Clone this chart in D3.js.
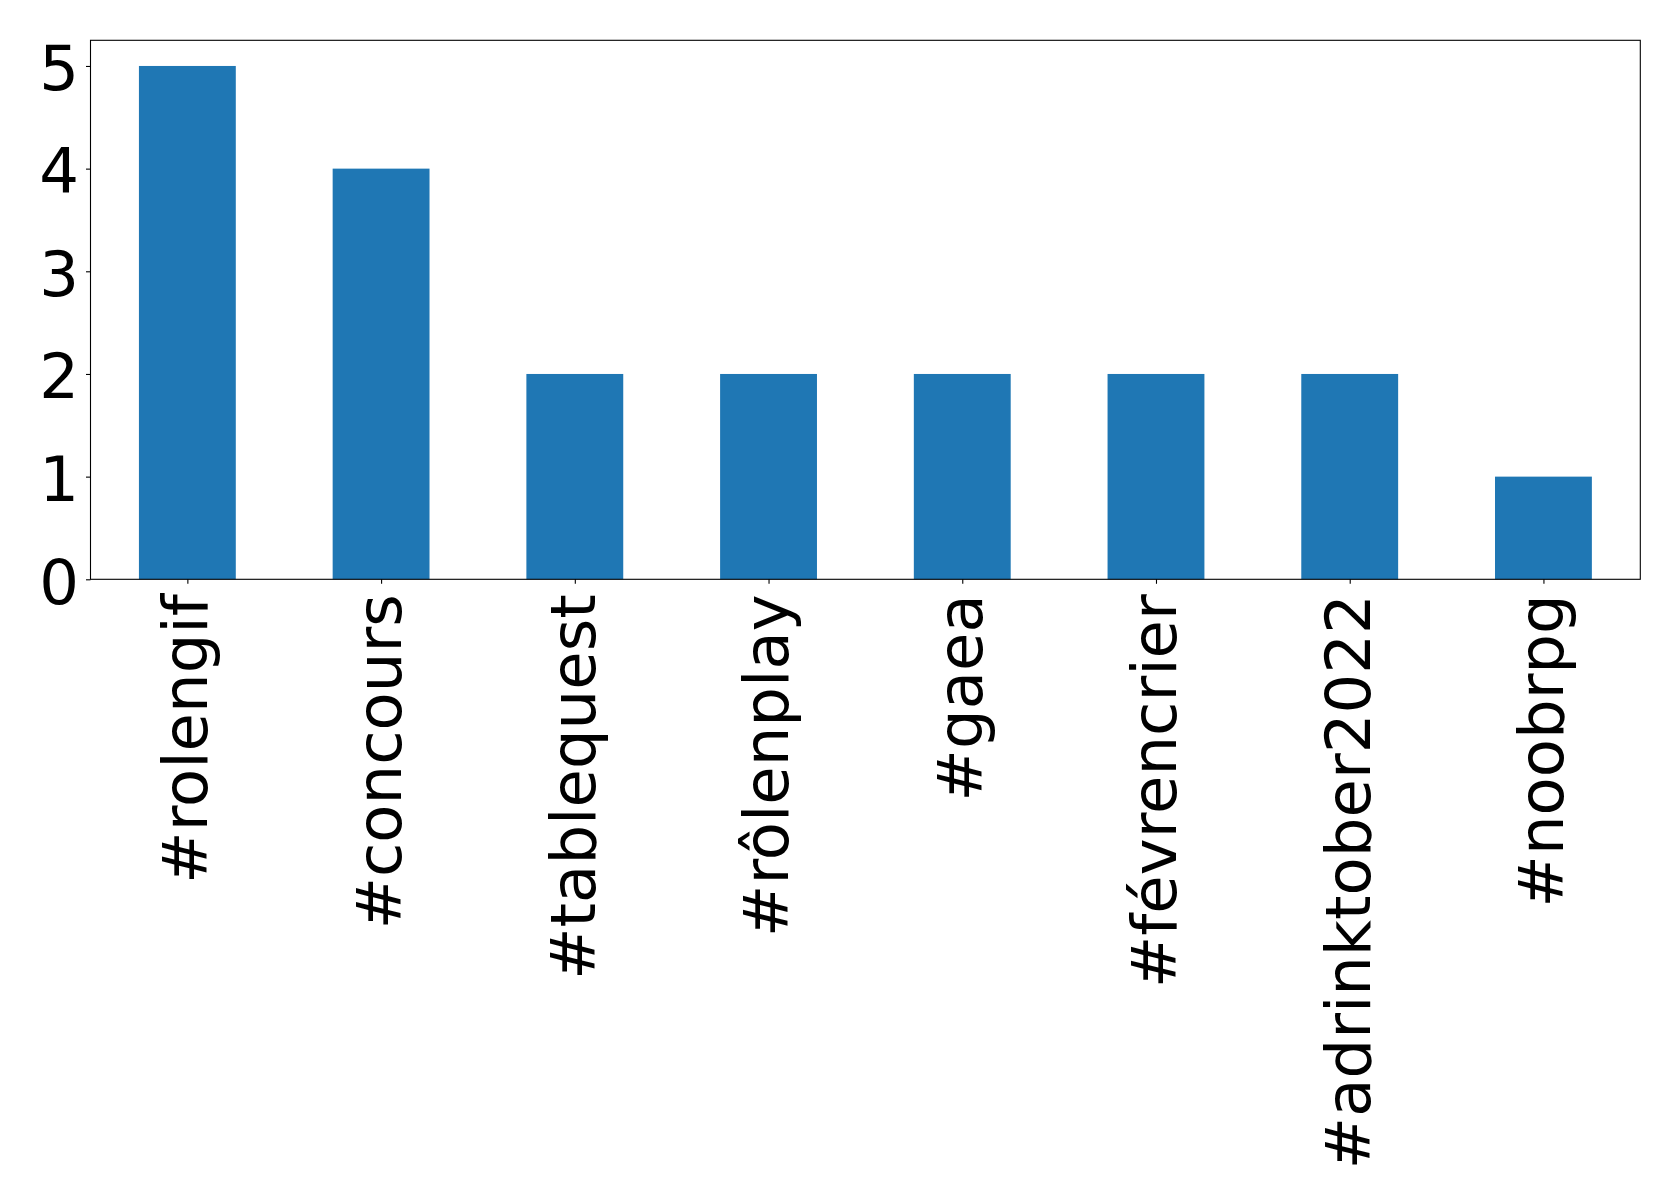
<!DOCTYPE html>
<html><head><meta charset="utf-8">
<script src="https://cdn.jsdelivr.net/npm/d3@7"></script>
<style>body{margin:0;background:#fff}svg{display:block}</style>
</head><body>
<script>
const categories = ["#rolengif","#concours","#tablequest","#rôlenplay","#gaea","#févrencrier","#adrinktober2022","#noobrpg"];
const values = [5,4,2,2,2,2,2,1];
const yTicks = [0,1,2,3,4,5];

(function(){
const W=1679,H=1203;
const mL=90.5,mR=1640.3,mT=40.3,mB=579.3;
const svg=d3.select("body").append("svg").attr("width",W).attr("height",H);
const x=d3.scaleLinear().domain([-0.5,categories.length-0.5]).range([mL,mR]);
const y=d3.scaleLinear().domain([0,5.25]).range([mB,mT]);
const font="DejaVu Sans", fs=62.5;

svg.selectAll("rect.bar").data(values).join("rect").attr("class","bar")
  .attr("x",(d,i)=>x(i-0.25)).attr("width",(d,i)=>x(i+0.25)-x(i-0.25))
  .attr("y",d=>y(d)).attr("height",d=>y(0)-y(d)).attr("fill","#1f77b4");

svg.append("rect").attr("x",mL).attr("y",mT).attr("width",mR-mL).attr("height",mB-mT)
  .attr("fill","none").attr("stroke","#000").attr("stroke-width",1.1);

const yAxis=d3.axisLeft(y).tickValues(yTicks).tickFormat(d3.format("d")).tickSize(4.5).tickPadding(7);
const gy=svg.append("g").attr("transform",`translate(${mL},0)`).call(yAxis);
gy.select(".domain").remove();
gy.selectAll("text").attr("font-family",font).attr("font-size",fs).attr("fill","#000").attr("dy","0.38em");
gy.selectAll("line").attr("stroke","#000").attr("stroke-width",1.1);

const xAxis=d3.axisBottom(x).tickValues(d3.range(categories.length)).tickFormat(i=>categories[i]).tickSize(4.5).tickPadding(0);
const gx=svg.append("g").attr("transform",`translate(0,${mB})`).call(xAxis);
gx.select(".domain").remove();
gx.selectAll("line").attr("stroke","#000").attr("stroke-width",1.1);
gx.selectAll("text").attr("font-family",font).attr("font-size",fs).attr("fill","#000")
  .attr("text-anchor","end").attr("dy","0.31em").attr("y",0)
  .attr("transform","translate(0,15) rotate(-90)");
})();
</script>
</body></html>
